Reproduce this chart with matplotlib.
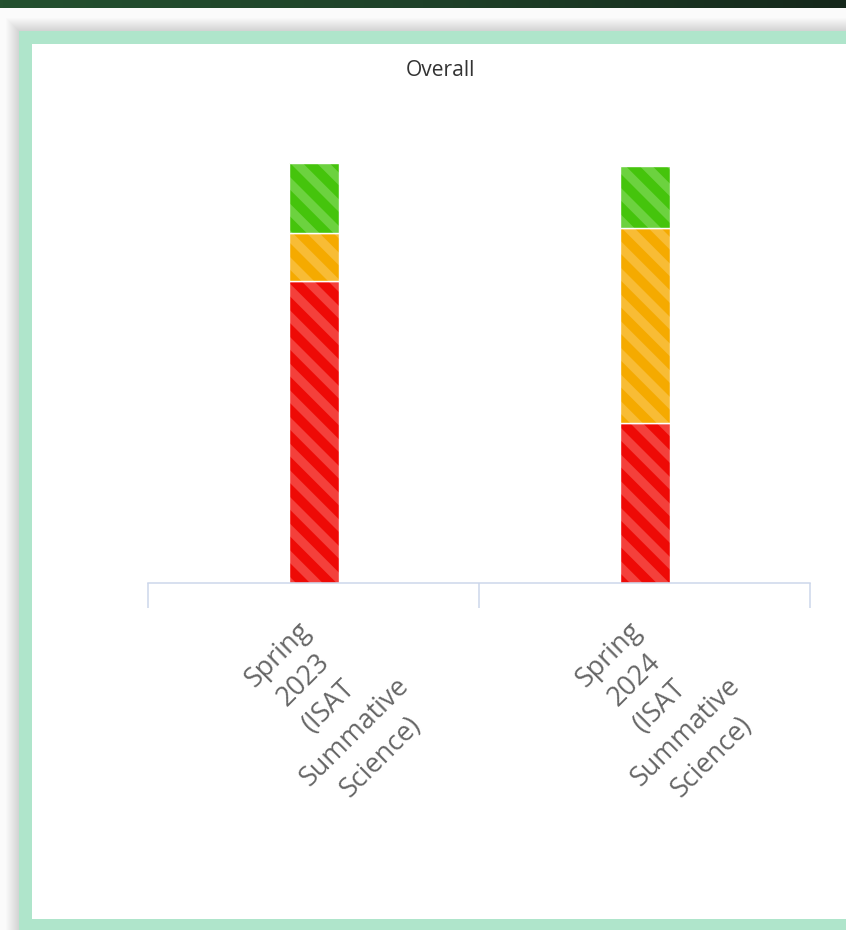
import numpy as np
import matplotlib
matplotlib.use("Agg")
import matplotlib.pyplot as plt
from matplotlib.patches import Rectangle
from matplotlib.colors import LinearSegmentedColormap

# data (percent of students per band)
categories = ["Spring\n2023\n(ISAT\nSummative\nScience)",
              "Spring\n2024\n(ISAT\nSummative\nScience)"]
red_vals = [72.0, 38.1]
orange_vals = [11.3, 46.5]
green_vals = [16.6, 14.7]

W, H, DPI = 846, 930, 160


def pt(px):
    return px * 72 / DPI


plt.rcParams['font.family'] = ['Open Sans', 'DejaVu Sans']
plt.rcParams['hatch.linewidth'] = pt(9)

fig = plt.figure(figsize=(W / DPI, H / DPI), dpi=DPI, facecolor='#fbfbfb')


def frect(x0, y0, x1, y1, **kw):
    # pixel box, origin top-left
    fig.patches.append(Rectangle((x0 / W, 1 - y1 / H), (x1 - x0) / W, (y1 - y0) / H,
                                 transform=fig.transFigure, zorder=-5, **kw))


# soft shadow around the card
for i in range(1, 14):
    frect(19 - i, 31 - i, 880 + i, 960 + i, facecolor='black', alpha=0.01, lw=0)

# mint card with white body
frect(19, 31, 880, 960, facecolor='#afe5cb', lw=0)
frect(32, 44, 880, 919, facecolor='white', lw=0)

# dark green page header strip
top = fig.add_axes([0, 1 - 8 / H, 1, 8 / H])
grad = LinearSegmentedColormap.from_list('hdr', ['#24502f', '#1f4229', '#15271b'])
top.imshow(np.linspace(0, 1, 256)[None, :], aspect='auto', cmap=grad)
top.axis('off')

# chart
ax = fig.add_axes([148 / W, 1 - 583 / H, 662 / W, 420 / H])
ax.set_facecolor('none')

x = np.arange(len(categories))
width = 50 / 331
series = [
    (red_vals, '#ee0a06', '#f4403b'),
    (orange_vals, '#f5aa00', '#f8bc35'),
    (green_vals, '#45c40c', '#6cd23f'),
]
bottom = np.zeros(len(categories))
for vals, base, stripe in series:
    vals = np.array(vals)
    ax.bar(x, vals, width, bottom=bottom, color=base, edgecolor=stripe,
           linewidth=0, hatch='\\\\')
    ax.bar(x, vals, width, bottom=bottom, fill=False, edgecolor='white',
           linewidth=pt(1.4))
    bottom += vals

ax.set_xlim(-0.5, len(categories) - 0.5)
ax.set_ylim(0, 100)
ax.set_yticks([])
ax.set_xticks(np.arange(len(categories) + 1) - 0.5)
ax.set_xticklabels([])
ax.tick_params(axis='x', length=pt(25), width=pt(1.5), color='#ccd6eb', direction='out')
for s in ['left', 'right', 'top']:
    ax.spines[s].set_visible(False)
ax.spines['bottom'].set_color('#ccd6eb')
ax.spines['bottom'].set_linewidth(pt(1.5))

for i, lab in enumerate(categories):
    ax.annotate(lab, xy=(i, 0), xycoords=('data', 'axes fraction'),
                xytext=(pt(16), pt(-123)), textcoords='offset points',
                rotation=45, rotation_mode='anchor', ha='center', va='center',
                multialignment='center', fontsize=pt(27), color='#666666',
                linespacing=1.4)

fig.text(440 / W, 1 - 70 / H, 'Overall', ha='center', va='center',
         fontsize=pt(21), color='#333333')

fig.savefig('out.png', dpi=DPI, facecolor=fig.get_facecolor())
